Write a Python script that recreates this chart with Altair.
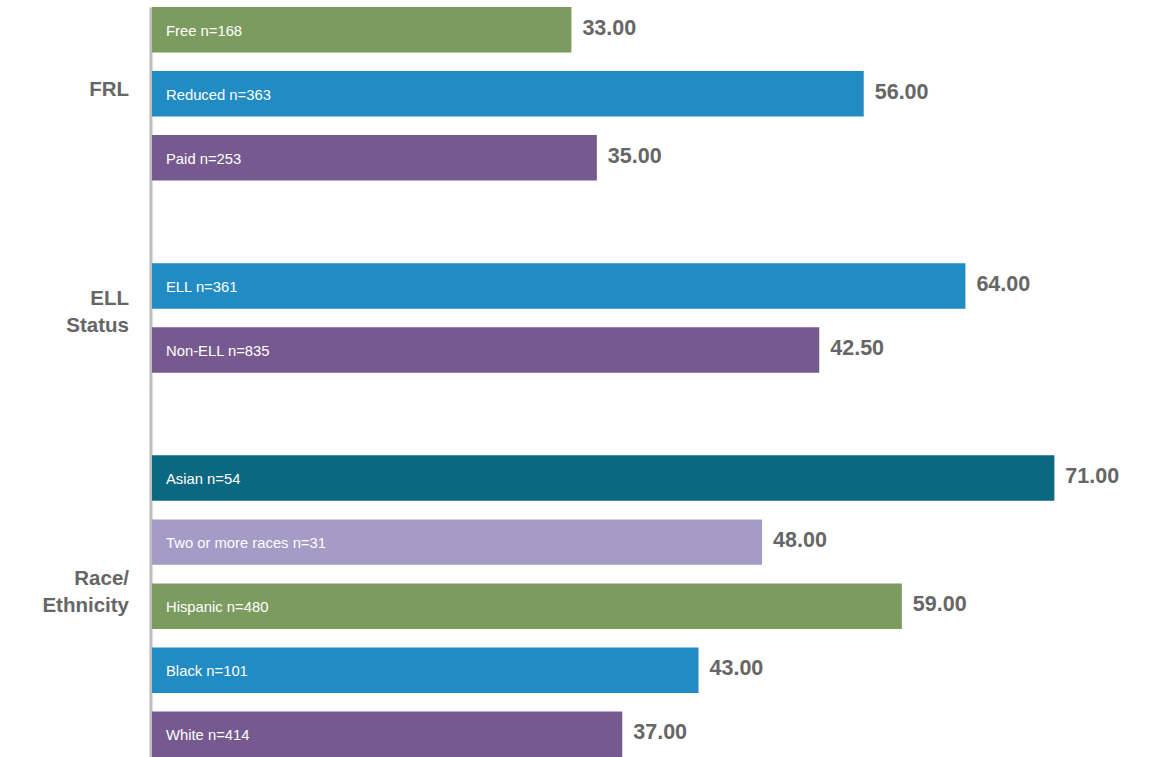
import altair as alt
import pandas as pd

# ---- data ----
groups = ["FRL", "FRL", "FRL", "ELL Status", "ELL Status",
          "Race/Ethnicity", "Race/Ethnicity", "Race/Ethnicity", "Race/Ethnicity", "Race/Ethnicity"]
categories = ["Free", "Reduced", "Paid", "ELL", "Non-ELL",
              "Asian", "Two or more races", "Hispanic", "Black", "White"]
ns = [168, 363, 253, 361, 835, 54, 31, 480, 101, 414]
# bar lengths as drawn in the reference
bar_values = [33.0, 56.0, 35.0, 64.0, 52.5, 71.0, 48.0, 59.0, 43.0, 37.0]
# value labels as printed in the reference
value_labels = ["33.00", "56.00", "35.00", "64.00", "42.50",
                "71.00", "48.00", "59.00", "43.00", "37.00"]

palette = ["#7b9b5f", "#218bc4", "#765a8f", "#218bc4", "#765a8f",
           "#0c6781", "#a49bc6", "#7b9b5f", "#218bc4", "#765a8f"]

labels = [f"{c} n={n}" for c, n in zip(categories, ns)]
df = pd.DataFrame({"group": groups, "label": labels, "value": bar_values, "vlabel": value_labels})

# row order with blank spacer rows between groups
row_order = labels[0:3] + [" "] + labels[3:5] + ["  "] + labels[5:10]

W, H = 1001, 750
xscale = alt.Scale(domain=[0, 78.76], nice=False, zero=True)
yscale = alt.Scale(domain=row_order, paddingInner=0.29, paddingOuter=0)

base = alt.Chart(df)

bars = base.mark_bar().encode(
    x=alt.X("value:Q", scale=xscale, axis=None),
    y=alt.Y("label:N", scale=yscale,
            axis=alt.Axis(title=None, labels=False, ticks=False, grid=False,
                          domain=True, domainColor="#bdbdbd", domainWidth=3, offset=1.5)),
    color=alt.Color("label:N", scale=alt.Scale(domain=labels, range=palette), legend=None),
)

inner = base.mark_text(align="left", baseline="middle", dx=14, dy=2,
                       font="Liberation Sans", fontSize=14.8, color="white").encode(
    x=alt.value(0),
    y=alt.Y("label:N", scale=yscale),
    text="label:N",
)

vals = base.mark_text(align="left", baseline="middle", dx=11, dy=-1,
                      font="Liberation Sans", fontWeight="bold", fontSize=21.5, color="#666666").encode(
    x=alt.X("value:Q", scale=xscale),
    y=alt.Y("label:N", scale=yscale),
    text="vlabel:N",
)

gstyle = dict(align="right", baseline="middle", font="Liberation Sans", fontWeight="bold",
              fontSize=20.5, color="#666666", lineBreak="\n", lineHeight=27)

g1 = alt.Chart(pd.DataFrame({"row": [labels[1]], "t": ["FRL"]})).mark_text(dy=-4, **gstyle).encode(
    x=alt.value(-23), y=alt.Y("row:N", scale=yscale), text="t:N")
g2 = alt.Chart(pd.DataFrame({"row": [labels[3]], "t": ["ELL\nStatus"]})).mark_text(dy=13, **gstyle).encode(
    x=alt.value(-23), y=alt.Y("row:N", scale=yscale), text="t:N")
g3 = alt.Chart(pd.DataFrame({"row": [labels[7]], "t": ["Race/\nEthnicity"]})).mark_text(dy=-27, **gstyle).encode(
    x=alt.value(-23), y=alt.Y("row:N", scale=yscale), text="t:N")

chart = alt.layer(bars, inner, vals, g1, g2, g3).properties(
    width=W, height=H,
    autosize=alt.AutoSizeParams(type="none"),
    padding={"left": 152, "top": 7, "right": 0, "bottom": 0},
).configure_view(stroke=None)

chart.save("out.html", embed_options={"renderer": "svg", "actions": False})
